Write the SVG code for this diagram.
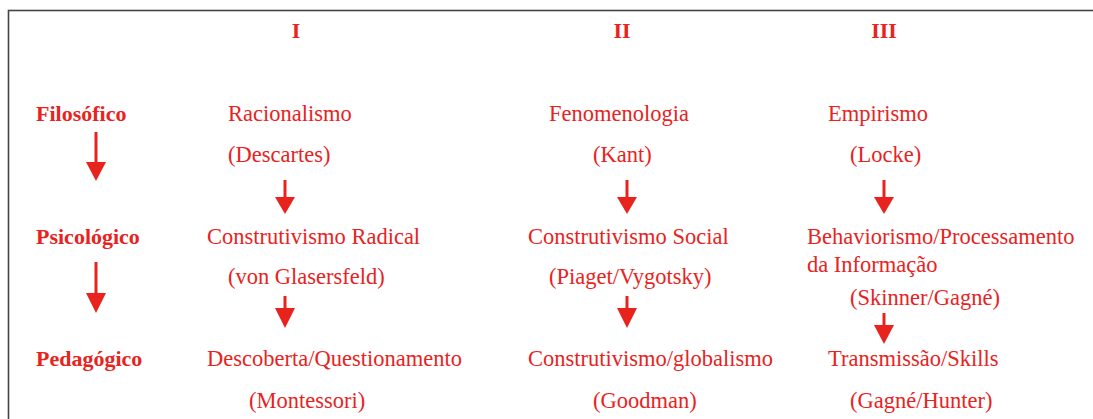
<svg xmlns="http://www.w3.org/2000/svg" width="1093" height="419" viewBox="0 0 1093 419">
<style>
text{font-family:"Liberation Serif","Times New Roman",serif;font-size:22.5px;fill:#e8231e}
.b{font-weight:bold;font-size:22px}
.h{font-weight:bold;font-size:22px;text-anchor:middle}
.ln{stroke:#e8231e;stroke-width:3;fill:none}
.hd{fill:#e8231e}
</style>
<rect x="8.5" y="10.5" width="1100" height="430" fill="#fff" stroke="#444" stroke-width="1.6"/>
<g id="headers">
<text class="h" x="296" y="38">I</text>
<text class="h" x="622" y="38">II</text>
<text class="h" x="884" y="38">III</text>
</g>
<g id="levels">
<text class="b" x="36" y="121">Filosófico</text>
<text class="b" x="36" y="244">Psicológico</text>
<text class="b" x="36" y="366">Pedagógico</text>
</g>
<g id="n-racionalismo"><text x="228" y="121">Racionalismo</text><text x="228" y="162">(Descartes)</text></g>
<g id="n-fenomenologia"><text x="549" y="121">Fenomenologia</text><text x="593" y="162">(Kant)</text></g>
<g id="n-empirismo"><text x="828" y="121">Empirismo</text><text x="850" y="162">(Locke)</text></g>
<g id="n-radical"><text x="207" y="244">Construtivismo Radical</text><text x="228" y="284">(von Glasersfeld)</text></g>
<g id="n-social"><text x="528" y="244">Construtivismo Social</text><text x="549" y="284">(Piaget/Vygotsky)</text></g>
<g id="n-behaviorismo"><text x="807" y="244">Behaviorismo/Processamento</text><text x="807" y="272">da Informação</text><text x="850" y="305">(Skinner/Gagné)</text></g>
<g id="n-descoberta"><text x="207" y="366">Descoberta/Questionamento</text><text x="249" y="408">(Montessori)</text></g>
<g id="n-globalismo"><text x="528" y="366">Construtivismo/globalismo</text><text x="593" y="408">(Goodman)</text></g>
<g id="n-transmissao"><text x="828" y="366">Transmissão/Skills</text><text x="850" y="408">(Gagné/Hunter)</text></g>
<g id="connectors">
<line class="ln" x1="96" y1="132" x2="96" y2="164"/><polygon class="hd" points="86,162 106,162 96,181"/>
<line class="ln" x1="96" y1="262" x2="96" y2="295"/><polygon class="hd" points="86,293 106,293 96,313"/>
<line class="ln" x1="285" y1="180" x2="285" y2="199"/><polygon class="hd" points="275,197 295,197 285,214"/>
<line class="ln" x1="285" y1="296" x2="285" y2="310"/><polygon class="hd" points="275,308 295,308 285,328"/>
<line class="ln" x1="627" y1="180" x2="627" y2="199"/><polygon class="hd" points="617,197 637,197 627,214"/>
<line class="ln" x1="627" y1="296" x2="627" y2="310"/><polygon class="hd" points="617,308 637,308 627,328"/>
<line class="ln" x1="884" y1="180" x2="884" y2="199"/><polygon class="hd" points="874,197 894,197 884,214"/>
<line class="ln" x1="884" y1="313" x2="884" y2="327"/><polygon class="hd" points="874,325 894,325 884,344"/>
</g>
</svg>
